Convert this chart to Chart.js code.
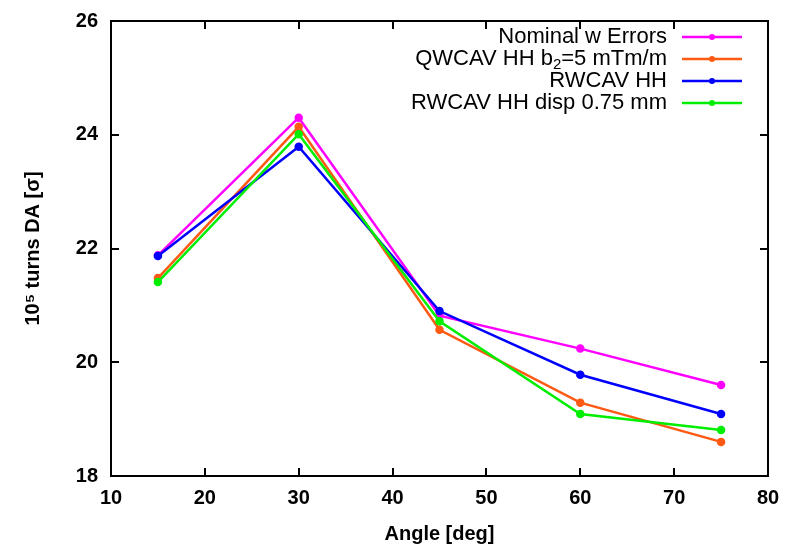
<!DOCTYPE html>
<html>
<head>
<meta charset="utf-8">
<script src="https://cdn.jsdelivr.net/npm/chart.js@4"></script>
<style>
  html, body { margin: 0; padding: 0; background: #fff; }
  #wrap { width: 785px; height: 544px; }
</style>
</head>
<body>
<div id="wrap"><canvas id="daChart" width="785" height="544"></canvas></div>
<script>
// angles in degrees
const angles = [15, 30, 45, 60, 75];

// 10^5 turns DA [sigma]
const nominalErrors = [21.88, 24.30, 20.82, 20.24, 19.60];
const qwcavHH = [21.48, 24.14, 20.57, 19.29, 18.60];
const rwcavHH = [21.87, 23.79, 20.90, 19.78, 19.09];
const rwcavDisp = [21.41, 24.01, 20.72, 19.09, 18.81];

const seriesLabels = ['Nominal w Errors', 'QWCAV HH b_2=5 mTm/m', 'RWCAV HH', 'RWCAV HH disp 0.75 mm'];
const seriesColors = ['#ff00ff', '#ff5a14', '#0000ff', '#00ee00'];

const xTicks = [10, 20, 30, 40, 50, 60, 70, 80];
const yTicks = [18, 20, 22, 24, 26];

function toPoints(values) {
    return values.map((v, i) => ({ x: angles[i], y: v }));
}

const allSeries = [nominalErrors, qwcavHH, rwcavHH, rwcavDisp];

// gnuplot style frame, inward ticks on all sides and the key
const framePlugin = {
    id: 'frame',
    afterDraw(chart) {
        const c = chart.ctx;
        const area = chart.chartArea;
        const xs = chart.scales.x;
        const ys = chart.scales.y;
        c.save();
        c.strokeStyle = '#000';
        c.lineWidth = 2;
        c.strokeRect(area.left, area.top, area.right - area.left, area.bottom - area.top);
        const len = 8;
        c.beginPath();
        xTicks.forEach(t => {
            const px = Math.round(xs.getPixelForValue(t));
            c.moveTo(px, area.bottom); c.lineTo(px, area.bottom - len);
            c.moveTo(px, area.top); c.lineTo(px, area.top + len);
        });
        yTicks.forEach(t => {
            const py = Math.round(ys.getPixelForValue(t));
            c.moveTo(area.left, py); c.lineTo(area.left + len, py);
            c.moveTo(area.right, py); c.lineTo(area.right - len, py);
        });
        c.stroke();

        // key, text right aligned with sample on the right
        const font = '22px "Liberation Sans", Arial, sans-serif';
        const subFont = '15px "Liberation Sans", Arial, sans-serif';
        const textRight = 667;
        const lineX0 = 682, lineX1 = 742;
        chart.data.datasets.forEach((ds, i) => {
            const y = 37 + i * 22;
            c.textBaseline = 'middle';
            c.fillStyle = '#000';
            const parts = ds.label.split('_');
            if (parts.length === 2) {
                const before = parts[0];
                const sub = parts[1].charAt(0);
                const after = parts[1].slice(1);
                c.font = font;
                const w1 = c.measureText(before).width;
                const w3 = c.measureText(after).width;
                c.font = subFont;
                const w2 = c.measureText(sub).width;
                let x = textRight - (w1 + w2 + w3);
                c.textAlign = 'left';
                c.font = font;
                c.fillText(before, x, y);
                x += w1;
                c.font = subFont;
                c.fillText(sub, x, y + 6);
                x += w2;
                c.font = font;
                c.fillText(after, x, y);
            } else {
                c.font = font;
                c.textAlign = 'right';
                c.fillText(ds.label, textRight, y);
            }
            c.strokeStyle = ds.borderColor;
            c.lineWidth = 2.5;
            c.beginPath();
            c.moveTo(lineX0, y); c.lineTo(lineX1, y);
            c.stroke();
            c.fillStyle = ds.borderColor;
            c.beginPath();
            c.arc((lineX0 + lineX1) / 2, y, 3, 0, Math.PI * 2);
            c.fill();
        });
        c.restore();
    }
};

const tickFont = { family: '"Liberation Sans", Arial, sans-serif', size: 20, weight: 'bold' };

const ctx = document.getElementById('daChart').getContext('2d');
const daChart = new Chart(ctx, {
    type: 'line',
    data: {
        datasets: allSeries.map((vals, i) => ({
            label: seriesLabels[i],
            data: toPoints(vals),
            borderColor: seriesColors[i],
            backgroundColor: seriesColors[i],
            borderWidth: 2.5,
            pointRadius: 3,
            pointHoverRadius: 3,
            tension: 0,
            fill: false,
            order: allSeries.length - i // later series drawn on top, like gnuplot
        }))
    },
    options: {
        responsive: false,
        animation: false,
        layout: { padding: { top: 21, right: 17, left: 0, bottom: 0 } },
        plugins: {
            legend: { display: false },
            tooltip: { enabled: false }
        },
        scales: {
            x: {
                type: 'linear',
                min: 10,
                max: 80,
                afterBuildTicks: s => { s.ticks = xTicks.map(v => ({ value: v })); },
                afterFit: s => { s.height = 68; s.paddingLeft = 0; s.paddingRight = 0; },
                grid: { display: false, drawTicks: false },
                border: { display: false },
                ticks: { color: '#000', font: tickFont, padding: 10 },
                title: {
                    display: true,
                    text: 'Angle [deg]',
                    color: '#000',
                    font: tickFont,
                    padding: { top: 0, bottom: -2 }
                }
            },
            y: {
                type: 'linear',
                min: 18,
                max: 26,
                afterBuildTicks: s => { s.ticks = yTicks.map(v => ({ value: v })); },
                afterFit: s => { s.width = 111; s.paddingTop = 0; s.paddingBottom = 0; },
                grid: { display: false, drawTicks: false },
                border: { display: false },
                ticks: { color: '#000', font: tickFont, padding: 13 },
                title: {
                    display: true,
                    text: '10\u2075 turns DA [\u03c3]',
                    color: '#000',
                    font: tickFont,
                    padding: { top: 21, bottom: 0 }
                }
            }
        }
    },
    plugins: [framePlugin]
});
</script>
</body>
</html>
